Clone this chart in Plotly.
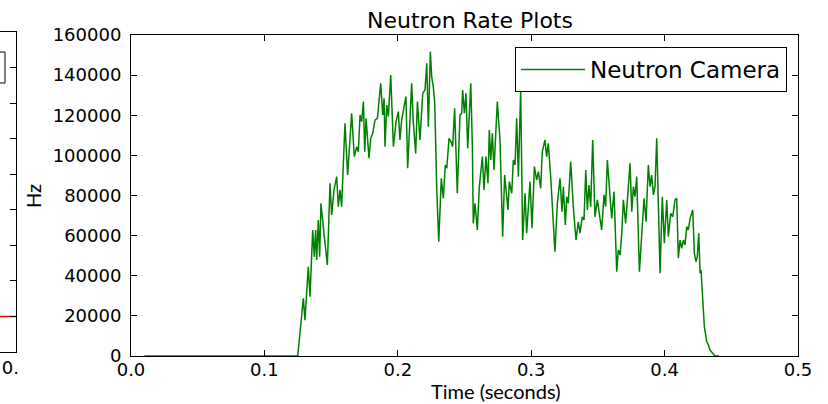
import plotly.graph_objects as go

# ---- data ----
time_s = [0.010, 0.125, 0.1292, 0.1304, 0.1329, 0.1342, 0.1362, 0.1374, 0.1384, 0.1392,
          0.1404, 0.1414, 0.1424, 0.1434, 0.1449, 0.1472, 0.1492, 0.1504, 0.1522, 0.1542,
          0.1554, 0.1567, 0.1579, 0.1604, 0.1624, 0.1654, 0.1674, 0.1692, 0.1704, 0.1717,
          0.1729, 0.1742, 0.1752, 0.1762, 0.1784, 0.1797, 0.1812, 0.1829, 0.1847, 0.1872,
          0.1887, 0.1897, 0.1904, 0.1917, 0.1929, 0.1947, 0.1967, 0.1987, 0.2004, 0.2016,
          0.2029, 0.2049, 0.2061, 0.2074, 0.2091, 0.2104, 0.2116, 0.2134, 0.2147, 0.2166,
          0.2187, 0.2204, 0.2217, 0.2229, 0.2244, 0.2254, 0.2266, 0.2277, 0.2292, 0.2307,
          0.2326, 0.2341, 0.2356, 0.2367, 0.2384, 0.2399, 0.2411, 0.2426, 0.2446, 0.2466,
          0.2479, 0.2486, 0.2499, 0.2511, 0.2524, 0.2536, 0.2547, 0.2559, 0.2566, 0.2579,
          0.2596, 0.2611, 0.2634, 0.2646, 0.2661, 0.2676, 0.2686, 0.2697, 0.2709, 0.2721,
          0.2746, 0.2766, 0.2786, 0.2801, 0.2811, 0.2826, 0.2836, 0.2854, 0.2866, 0.2879,
          0.2891, 0.2904, 0.2921, 0.2936, 0.2954, 0.2966, 0.2991, 0.3006, 0.3024, 0.3041,
          0.3054, 0.3071, 0.3083, 0.3103, 0.3116, 0.3128, 0.3146, 0.3166, 0.3178, 0.3196,
          0.3216, 0.3231, 0.3241, 0.3256, 0.3266, 0.3278, 0.3296, 0.3316, 0.3336, 0.3353,
          0.3366, 0.3383, 0.3396, 0.3409, 0.3421, 0.3433, 0.3446, 0.3461, 0.3478, 0.3496,
          0.3508, 0.3528, 0.3546, 0.3558, 0.3571, 0.3586, 0.3603, 0.3621, 0.3641, 0.3653,
          0.3666, 0.3679, 0.3691, 0.3708, 0.3724, 0.3741, 0.3754, 0.3766, 0.3778, 0.3791,
          0.3811, 0.3828, 0.3846, 0.3861, 0.3878, 0.3891, 0.3903, 0.3916, 0.3928, 0.3941,
          0.3953, 0.3966, 0.3983, 0.3998, 0.4016, 0.4028, 0.4046, 0.4061, 0.4078, 0.4091,
          0.4103, 0.4116, 0.4128, 0.4141, 0.4153, 0.4166, 0.4178, 0.4191, 0.4211, 0.4223,
          0.4235, 0.4245, 0.4256, 0.4266, 0.4273, 0.4286, 0.4298, 0.4316, 0.4328, 0.4340,
          0.4361, 0.4378, 0.4410]

rate_hz = [0, 0, 28800, 17900, 44500, 29600, 62800, 49500, 62800, 47900,
           67800, 49500, 76100, 67800, 59500, 45400, 86100, 70300, 82800, 89400,
           74400, 82800, 74400, 116000, 90200, 121000, 99400, 104300, 101800, 120100,
           116800, 126800, 101800, 118500, 98600, 108500, 111000, 117600, 118500, 135900,
           120100, 128500, 104300, 125100, 119300, 140100, 104300, 116800, 121800, 107700,
           117600, 125100, 129300, 93600, 118500, 135900, 116800, 101000, 126800, 107700,
           131000, 132600, 145900, 114300, 151700, 139300, 134300, 126000, 82800, 57000,
           88600, 78600, 95200, 93600, 108500, 106800, 104300, 123500, 81100, 120100,
           121000, 132600, 121000, 131000, 103500, 124300, 135900, 104300, 66100, 76100,
           62800, 84400, 99400, 82800, 99400, 86100, 112700, 97700, 111000, 92700,
           126800, 107700, 59500, 90200, 84400, 72800, 86900, 81100, 97700, 95200,
           118500, 89400, 132600, 57800, 81100, 61200, 86900, 63700, 94400, 87700,
           91900, 83600, 101800, 107700, 99400, 106000, 89400, 69400, 52000, 76100,
           88600, 71900, 84400, 65300, 79400, 76100, 96900, 74000, 57800, 66900,
           61200, 69400, 67800, 92700, 72800, 85200, 74400, 107700, 69400, 77800,
           71900, 62800, 80300, 74400, 97700, 82800, 68600, 81900, 42000, 52800,
           50300, 61200, 77800, 66100, 80300, 96100, 71900, 84400, 79400, 89400,
           42000, 61200, 78600, 66900, 95200, 84400, 90200, 80300, 84400, 108500,
           71100, 41200, 79400, 56200, 77800, 59500, 71100, 69400, 77800, 78600,
           48700, 57800, 53700, 57800, 55300, 64500, 62800, 68600, 72800, 51200,
           47000, 49500, 61200, 41200, 42900, 27900, 14600, 7100, 5500, 3000,
           1000, 0, 0]

# partial neighbouring chart (only its right edge is visible)
left_time = [0.0, 0.5]
left_level = [10, 10]

x_ticks = [0.0, 0.1, 0.2, 0.3, 0.4, 0.5]
y_ticks = [0, 20000, 40000, 60000, 80000, 100000, 120000, 140000, 160000]

W, H = 828, 404
L, R, T, B = 0, 0, 32, 48
PH = H - T - B  # 324


def px(x):
    return x / W


def py(y):
    return (H - B - y) / PH


tick_font = dict(family="DejaVu Sans", size=18, color="black")

fig = go.Figure()
fig.add_trace(go.Scatter(x=time_s, y=rate_hz, mode="lines", name="Neutron Camera",
                         line=dict(color="#008000", width=1.5), xaxis="x", yaxis="y"))
fig.add_trace(go.Scatter(x=left_time, y=left_level, mode="lines", name="left",
                         line=dict(color="#ff0000", width=1.4), xaxis="x2", yaxis="y2",
                         showlegend=False))

axis_common = dict(showline=True, linecolor="black", linewidth=1, ticks="inside",
                   ticklen=6, tickcolor="black", tickwidth=1, showgrid=False,
                   zeroline=False, tickfont=tick_font)

fig.update_layout(
    width=W, height=H,
    margin=dict(l=L, r=R, t=T, b=B, autoexpand=False),
    paper_bgcolor="white", plot_bgcolor="white",
    title=dict(text="Neutron Rate Plots", x=px(470), xanchor="center",
               y=1 - 20 / H, yanchor="middle",
               font=dict(family="DejaVu Sans", size=22, color="black")),
    xaxis=dict(domain=[px(131), px(798)], range=[0, 0.5], tickvals=x_ticks,
               tickformat=".1f", mirror="ticks", ticklabelstandoff=-3, **axis_common),
    yaxis=dict(domain=[0, py(35)], range=[0, 160000], tickvals=y_ticks,
               tickformat="d", mirror="ticks", ticklabelstandoff=5, **axis_common),
    xaxis2=dict(domain=[0, px(16)], range=[0.48, 0.5], tickvals=[0.5],
                tickformat=".1f", mirror=True, anchor="y2", ticklabelstandoff=-1,
                **axis_common),
    yaxis2=dict(domain=[py(352), 1], range=[0, 90], dtick=10, side="right",
                showticklabels=False, anchor="x2", mirror=False,
                **{k: v for k, v in axis_common.items() if k != "tickfont"}),
    legend=dict(x=px(787), xanchor="right", y=py(47), yanchor="top",
                bordercolor="black", borderwidth=1, bgcolor="white",
                itemwidth=64,
                font=dict(family="DejaVu Sans", size=23, color="black")),
    showlegend=True,
    annotations=[
        dict(text="Hz", x=px(33), y=py(196), xref="paper", yref="paper",
             xanchor="center", yanchor="middle",
             showarrow=False, textangle=-90,
             font=dict(family="Lato", size=20, color="black")),
        dict(text="Time (seconds)", x=px(496), y=py(391), xref="paper", yref="paper",
             xanchor="center", yanchor="middle",
             showarrow=False, font=dict(family="Lato", size=20, color="black")),
    ],
    shapes=[
        # fragment of the neighbouring chart's legend box
        dict(type="rect", xref="paper", yref="paper", x0=-0.1, x1=px(5),
             y0=py(83), y1=py(52), line=dict(color="black", width=1)),
        # neighbouring chart's tick label is cut off by the main chart
        dict(type="rect", xref="paper", yref="paper", x0=px(20), x1=px(45),
             y0=py(385), y1=py(353.5), fillcolor="white", line=dict(width=0),
             layer="above"),
    ],
)

fig.write_html("out.html")
